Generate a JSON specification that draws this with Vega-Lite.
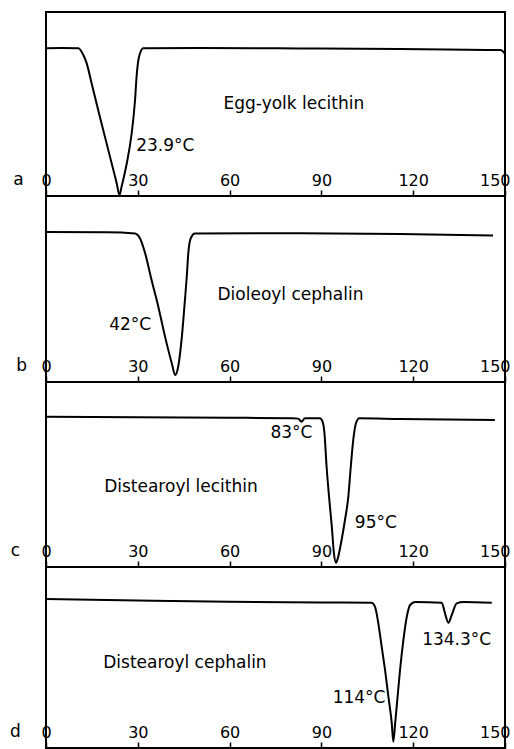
{
  "$schema": "https://vega.github.io/schema/vega-lite/v6.json",
  "autosize": {"type": "pad"},
  "padding": {"left": 9, "top": 11, "right": 2, "bottom": 0},
  "background": "white",
  "bounds": "flush",
  "spacing": 0,
  "config": {
    "view": {"stroke": "black", "strokeWidth": 2},
    "axis": {
      "domain": false, "grid": false, "title": null,
      "ticks": true, "tickColor": "black", "tickSize": -6, "tickWidth": 1.5,
      "labelFont": "DejaVu Sans", "labelFontSize": 16, "labelColor": "black",
      "labelBaseline": "middle", "labelPadding": -10, "labelFlush": true, "labelFlushOffset": 5, "labelOverlap": false
    },
    "text": {"font": "DejaVu Sans", "fontSize": 17, "color": "black"},
    "line": {"color": "black", "strokeWidth": 2}
  },
  "datasets": {
    "curves": [
      {"panel": "a", "t": 0, "v": 80.3},
      {"panel": "a", "t": 5, "v": 80.4},
      {"panel": "a", "t": 10.6, "v": 80.3},
      {"panel": "a", "t": 12.2, "v": 76.6},
      {"panel": "a", "t": 13.3, "v": 72.1},
      {"panel": "a", "t": 14.9, "v": 61.3},
      {"panel": "a", "t": 17.6, "v": 43.1},
      {"panel": "a", "t": 20.9, "v": 21.4},
      {"panel": "a", "t": 23.1, "v": 6.9},
      {"panel": "a", "t": 24.0, "v": 0.5},
      {"panel": "a", "t": 24.7, "v": 5.1},
      {"panel": "a", "t": 26.4, "v": 17.8},
      {"panel": "a", "t": 28.0, "v": 34.1},
      {"panel": "a", "t": 29.1, "v": 52.2},
      {"panel": "a", "t": 29.6, "v": 64.8},
      {"panel": "a", "t": 30.4, "v": 75.7},
      {"panel": "a", "t": 31.8, "v": 80.3},
      {"panel": "a", "t": 50.3, "v": 80.4},
      {"panel": "a", "t": 83, "v": 80.2},
      {"panel": "a", "t": 115.7, "v": 79.9},
      {"panel": "a", "t": 148.4, "v": 79.3},
      {"panel": "a", "t": 149.2, "v": 78.8},
      {"panel": "a", "t": 150, "v": 77.2},

      {"panel": "b", "t": 0, "v": 80.6},
      {"panel": "b", "t": 20, "v": 80.5},
      {"panel": "b", "t": 29.1, "v": 79.9},
      {"panel": "b", "t": 30.7, "v": 77.3},
      {"panel": "b", "t": 32.4, "v": 69.2},
      {"panel": "b", "t": 34.5, "v": 54.8},
      {"panel": "b", "t": 36.7, "v": 40.5},
      {"panel": "b", "t": 38.9, "v": 24.4},
      {"panel": "b", "t": 41.1, "v": 10.1},
      {"panel": "b", "t": 42.2, "v": 3.8},
      {"panel": "b", "t": 43.2, "v": 8.2},
      {"panel": "b", "t": 44.3, "v": 22.6},
      {"panel": "b", "t": 45.4, "v": 44.1},
      {"panel": "b", "t": 46.0, "v": 56.6},
      {"panel": "b", "t": 46.5, "v": 69.2},
      {"panel": "b", "t": 47.3, "v": 77.3},
      {"panel": "b", "t": 48.7, "v": 79.9},
      {"panel": "b", "t": 83, "v": 80.0},
      {"panel": "b", "t": 115.7, "v": 79.6},
      {"panel": "b", "t": 146.1, "v": 78.8},

      {"panel": "c", "t": 0, "v": 81.2},
      {"panel": "c", "t": 30, "v": 81},
      {"panel": "c", "t": 60, "v": 80.7},
      {"panel": "c", "t": 80.5, "v": 80.4},
      {"panel": "c", "t": 82.4, "v": 80.2},
      {"panel": "c", "t": 83.5, "v": 78.5},
      {"panel": "c", "t": 84.6, "v": 80.4},
      {"panel": "c", "t": 89.5, "v": 80.4},
      {"panel": "c", "t": 90.4, "v": 78.5},
      {"panel": "c", "t": 91.0, "v": 72.3},
      {"panel": "c", "t": 91.7, "v": 54.2},
      {"panel": "c", "t": 92.6, "v": 36.2},
      {"panel": "c", "t": 93.4, "v": 21.8},
      {"panel": "c", "t": 94.1, "v": 7.4},
      {"panel": "c", "t": 94.8, "v": 2.3},
      {"panel": "c", "t": 95.5, "v": 5.6},
      {"panel": "c", "t": 96.6, "v": 14.6},
      {"panel": "c", "t": 97.7, "v": 25.4},
      {"panel": "c", "t": 98.8, "v": 38},
      {"panel": "c", "t": 99.6, "v": 54.2},
      {"panel": "c", "t": 100.4, "v": 68.6},
      {"panel": "c", "t": 101.3, "v": 77.7},
      {"panel": "c", "t": 102.4, "v": 80.4},
      {"panel": "c", "t": 115.7, "v": 80},
      {"panel": "c", "t": 146.7, "v": 79.5},

      {"panel": "d", "t": 0, "v": 82.3},
      {"panel": "d", "t": 30, "v": 81.5},
      {"panel": "d", "t": 60, "v": 80.8},
      {"panel": "d", "t": 90, "v": 80.4},
      {"panel": "d", "t": 106.4, "v": 80.3},
      {"panel": "d", "t": 107.5, "v": 78.1},
      {"panel": "d", "t": 108.6, "v": 68.9},
      {"panel": "d", "t": 109.7, "v": 56.0},
      {"panel": "d", "t": 110.8, "v": 43.1},
      {"panel": "d", "t": 111.9, "v": 28.3},
      {"panel": "d", "t": 113.0, "v": 13.6},
      {"panel": "d", "t": 113.5, "v": 3.5},
      {"panel": "d", "t": 114.1, "v": 13.6},
      {"panel": "d", "t": 114.8, "v": 26.5},
      {"panel": "d", "t": 115.7, "v": 43.1},
      {"panel": "d", "t": 116.8, "v": 59.7},
      {"panel": "d", "t": 117.9, "v": 72.5},
      {"panel": "d", "t": 119.0, "v": 79.0},
      {"panel": "d", "t": 120.6, "v": 80.6},
      {"panel": "d", "t": 129.3, "v": 80.3},
      {"panel": "d", "t": 130.4, "v": 74.4},
      {"panel": "d", "t": 131.5, "v": 69.2},
      {"panel": "d", "t": 132.6, "v": 73.5},
      {"panel": "d", "t": 134.2, "v": 79.9},
      {"panel": "d", "t": 136.4, "v": 80.6},
      {"panel": "d", "t": 145.7, "v": 80.2}
    ],
    "labels": [
      {"panel": "a", "t": 81, "v": 50, "text": "Egg-yolk lecithin"},
      {"panel": "a", "t": 39, "v": 27, "text": "23.9°C"},
      {"panel": "a", "t": -9, "v": 8.7, "text": "a"},
      {"panel": "b", "t": 79.9, "v": 46.8, "text": "Dioleoyl cephalin"},
      {"panel": "b", "t": 27.5, "v": 30.6, "text": "42°C"},
      {"panel": "b", "t": -8, "v": 8.6, "text": "b"},
      {"panel": "c", "t": 80.2, "v": 72.4, "text": "83°C"},
      {"panel": "c", "t": 44.1, "v": 43.2, "text": "Distearoyl lecithin"},
      {"panel": "c", "t": 107.8, "v": 23.8, "text": "95°C"},
      {"panel": "c", "t": -10, "v": 8.6, "text": "c"},
      {"panel": "d", "t": 45.4, "v": 47, "text": "Distearoyl cephalin"},
      {"panel": "d", "t": 134.2, "v": 59.7, "text": "134.3°C"},
      {"panel": "d", "t": 102.3, "v": 27.6, "text": "114°C"},
      {"panel": "d", "t": -10, "v": 8.8, "text": "d"}
    ]
  },
  "vconcat": [
    {
      "width": 459, "height": 184,
      "layer": [
        {"data": {"name": "curves"}, "transform": [{"filter": "datum.panel === 'a'"}],
         "mark": {"type": "line", "interpolate": "monotone"},
         "encoding": {
           "x": {"field": "t", "type": "quantitative", "scale": {"domain": [0, 150], "nice": false}, "axis": {"values": [0, 30, 60, 90, 120, 150]}},
           "y": {"field": "v", "type": "quantitative", "scale": {"domain": [0, 100], "nice": false}, "axis": null}}},
        {"data": {"name": "labels"}, "transform": [{"filter": "datum.panel === 'a'"}],
         "mark": {"type": "text"},
         "encoding": {
           "x": {"field": "t", "type": "quantitative"},
           "y": {"field": "v", "type": "quantitative"},
           "text": {"field": "text"}}}
      ]
    },
    {
      "width": 459, "height": 186,
      "layer": [
        {"data": {"name": "curves"}, "transform": [{"filter": "datum.panel === 'b'"}],
         "mark": {"type": "line", "interpolate": "monotone"},
         "encoding": {
           "x": {"field": "t", "type": "quantitative", "scale": {"domain": [0, 150], "nice": false}, "axis": {"values": [0, 30, 60, 90, 120, 150]}},
           "y": {"field": "v", "type": "quantitative", "scale": {"domain": [0, 100], "nice": false}, "axis": null}}},
        {"data": {"name": "labels"}, "transform": [{"filter": "datum.panel === 'b'"}],
         "mark": {"type": "text"},
         "encoding": {
           "x": {"field": "t", "type": "quantitative"},
           "y": {"field": "v", "type": "quantitative"},
           "text": {"field": "text"}}}
      ]
    },
    {
      "width": 459, "height": 185,
      "layer": [
        {"data": {"name": "curves"}, "transform": [{"filter": "datum.panel === 'c'"}],
         "mark": {"type": "line", "interpolate": "monotone"},
         "encoding": {
           "x": {"field": "t", "type": "quantitative", "scale": {"domain": [0, 150], "nice": false}, "axis": {"values": [0, 30, 60, 90, 120, 150]}},
           "y": {"field": "v", "type": "quantitative", "scale": {"domain": [0, 100], "nice": false}, "axis": null}}},
        {"data": {"name": "labels"}, "transform": [{"filter": "datum.panel === 'c'"}],
         "mark": {"type": "text"},
         "encoding": {
           "x": {"field": "t", "type": "quantitative"},
           "y": {"field": "v", "type": "quantitative"},
           "text": {"field": "text"}}}
      ]
    },
    {
      "width": 459, "height": 181,
      "layer": [
        {"data": {"name": "curves"}, "transform": [{"filter": "datum.panel === 'd'"}],
         "mark": {"type": "line", "interpolate": "monotone"},
         "encoding": {
           "x": {"field": "t", "type": "quantitative", "scale": {"domain": [0, 150], "nice": false}, "axis": {"values": [0, 30, 60, 90, 120, 150]}},
           "y": {"field": "v", "type": "quantitative", "scale": {"domain": [0, 100], "nice": false}, "axis": null}}},
        {"data": {"name": "labels"}, "transform": [{"filter": "datum.panel === 'd'"}],
         "mark": {"type": "text"},
         "encoding": {
           "x": {"field": "t", "type": "quantitative"},
           "y": {"field": "v", "type": "quantitative"},
           "text": {"field": "text"}}}
      ]
    }
  ]
}
